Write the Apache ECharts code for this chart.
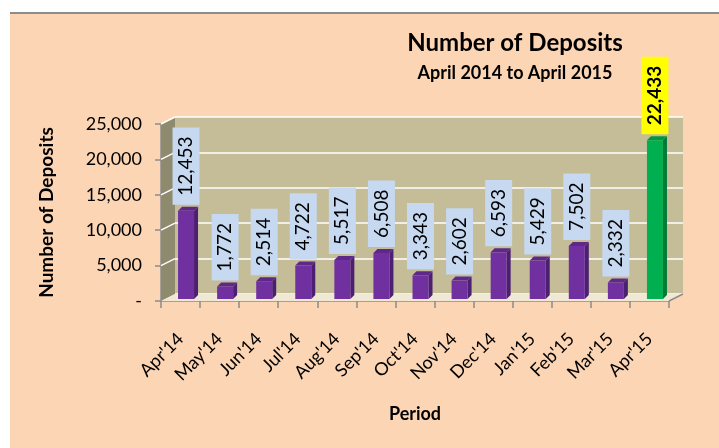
<!DOCTYPE html>
<html>
<head>
<meta charset="utf-8">
<script src="https://cdn.jsdelivr.net/npm/echarts@6/dist/echarts.min.js"></script>
<style>
  html, body { margin: 0; padding: 0; background: #fff; }
  #frame { position: absolute; left: 10px; top: 12px; width: 709px; height: 436px; background: #FCD5B4; border-top: 2px solid #8c8c8c; box-sizing: border-box; }
  #chart { position: absolute; left: 0; top: 0; width: 719px; height: 448px; }
</style>
</head>
<body>
<div id="frame"></div>
<div id="chart"></div>
<script>
const periods = ["Apr'14", "May'14", "Jun'14", "Jul'14", "Aug'14", "Sep'14", "Oct'14", "Nov'14", "Dec'14", "Jan'15", "Feb'15", "Mar'15", "Apr'15"];
const deposits = [12453, 1772, 2514, 4722, 5517, 6508, 3343, 2602, 6593, 5429, 7502, 2332, 22433];
const yMax = 25000;
const yStep = 5000;
const highlightIndex = 12;

// 3d depth of the wall/floor (px)
const DX = 14, DY = 7;
const FONT = "Lato";

const chart = echarts.init(document.getElementById("chart"));

function fmt(v) {
  return v === 0 ? "-" : v.toLocaleString("en-US");
}

const valueAxis = (gridIndex, extra) => Object.assign({
  type: "value", gridIndex: gridIndex, min: 0, max: yMax, interval: yStep
}, extra);

const option = {
  animation: false,
  backgroundColor: "transparent",
  title: [
    { text: "Number of Deposits", left: 510, top: 26, textAlign: "center",
      textStyle: { fontFamily: FONT, fontSize: 24, fontWeight: "bold", color: "#000" } },
    { text: "April 2014 to April 2015", left: 510, top: 59, textAlign: "center",
      textStyle: { fontFamily: FONT, fontSize: 18, fontWeight: "bold", color: "#000" } }
  ],
  grid: [
    // front axes
    { left: 161, right: 50, top: 124, bottom: 147 },
    // back wall
    { left: 175, right: 36, top: 117, bottom: 154, show: true, backgroundColor: "#C4BD97", borderWidth: 0 },
    // bars (middle depth)
    { left: 166.5, right: 44.5, top: 122, bottom: 149 }
  ],
  xAxis: [
    { type: "category", gridIndex: 0, data: periods,
      name: "Period", nameLocation: "middle", nameGap: 104,
      nameTextStyle: { fontFamily: FONT, fontSize: 18, fontWeight: "bold", color: "#000" },
      axisLine: { lineStyle: { color: "#8c8c8c", width: 1.5 } },
      axisTick: { show: true, length: 7, lineStyle: { color: "#8c8c8c", width: 1.5 } },
      axisLabel: { rotate: 45, margin: 35, fontFamily: FONT, fontSize: 18, color: "#000", interval: 0 },
      splitLine: { show: false } },
    { type: "category", gridIndex: 1, data: periods,
      axisLine: { show: false }, axisTick: { show: false }, axisLabel: { show: false } },
    { type: "category", gridIndex: 2, data: periods, show: false }
  ],
  yAxis: [
    valueAxis(0, {
      name: "Number of Deposits", nameLocation: "middle", nameGap: 105,
      nameTextStyle: { fontFamily: FONT, fontSize: 19, fontWeight: "bold", color: "#000" },
      axisLine: { show: true, lineStyle: { color: "#8c8c8c", width: 1.5 } },
      axisTick: { show: true, length: 6, lineStyle: { color: "#8c8c8c", width: 1.5 } },
      axisLabel: { formatter: fmt, margin: 19, fontFamily: FONT, fontSize: 18, color: "#000" },
      splitLine: { show: false } }),
    valueAxis(1, {
      axisLine: { show: false }, axisTick: { show: false }, axisLabel: { show: false },
      splitLine: { show: true, lineStyle: { color: "#ffffff", width: 1.5 } } }),
    valueAxis(2, { show: false })
  ],
  series: [
    // side wall and floor of the 3d frame
    { type: "custom", xAxisIndex: 0, yAxisIndex: 0, z: 2, silent: true,
      data: [[0, 0]],
      renderItem: function (params, api) {
        const cs = params.coordSys;
        const x = cs.x, y = cs.y, w = cs.width, h = cs.height;
        const children = [
          { type: "polygon", shape: { points: [[x, y], [x + DX, y - DY], [x + DX, y + h - DY], [x, y + h]] },
            style: { fill: "#8E8A6E" } },
          { type: "polygon", shape: { points: [[x, y + h], [x + DX, y + h - DY], [x + w + DX, y + h - DY], [x + w, y + h]] },
            style: { fill: "#EEE8D4" } },
          { type: "line", shape: { x1: x + w, y1: y + h, x2: x + w + DX, y2: y + h - DY },
            style: { stroke: "#8c8c8c", lineWidth: 1.5 } }
        ];
        for (let t = yStep; t <= yMax; t += yStep) {
          const ty = api.coord([0, t])[1];
          children.push({ type: "line", shape: { x1: x, y1: ty, x2: x + DX, y2: ty - DY },
            style: { stroke: "#ffffff", lineWidth: 1.5 } });
        }
        return { type: "group", children: children };
      } },
    // 3d bars
    { type: "custom", xAxisIndex: 2, yAxisIndex: 2, z: 3, silent: true,
      data: deposits.map((v, i) => [i, v]),
      renderItem: function (params, api) {
        const i = api.value(0);
        const top = api.coord([i, api.value(1)]);
        const base = api.coord([i, 0]);
        const hw = 8, dx = 4, dy = 4;
        const cx = top[0];
        const hi = i === highlightIndex;
        const front = hi ? "#00B050" : "#7030A0";
        const side = hi ? "#007A37" : "#4B1F72";
        const cap = hi ? "#00963F" : "#5E2889";
        return { type: "group", children: [
          { type: "polygon", shape: { points: [[cx + hw, top[1]], [cx + hw + dx, top[1] - dy], [cx + hw + dx, base[1] - dy], [cx + hw, base[1]]] },
            style: { fill: side } },
          { type: "polygon", shape: { points: [[cx - hw, top[1]], [cx - hw + dx, top[1] - dy], [cx + hw + dx, top[1] - dy], [cx + hw, top[1]]] },
            style: { fill: cap } },
          { type: "rect", shape: { x: cx - hw, y: top[1], width: 2 * hw, height: base[1] - top[1] },
            style: { fill: front } }
        ] };
      } },
    // value labels
    { type: "bar", xAxisIndex: 2, yAxisIndex: 2, z: 4, silent: true, barWidth: 16,
      itemStyle: { color: "rgba(0,0,0,0)" },
      data: deposits.map((v, i) => i === highlightIndex
        ? { value: v, label: { backgroundColor: "#FFFF00", fontWeight: "bold" } }
        : v),
      label: { show: true, position: "top", distance: 6, rotate: 90, align: "left", verticalAlign: "middle",
        formatter: p => fmt(p.value), fontFamily: FONT, fontSize: 19, color: "#000",
        backgroundColor: "#C6D9F1", padding: [4, 9, 4, 9] } }
  ]
};

chart.setOption(option);
</script>
</body>
</html>
